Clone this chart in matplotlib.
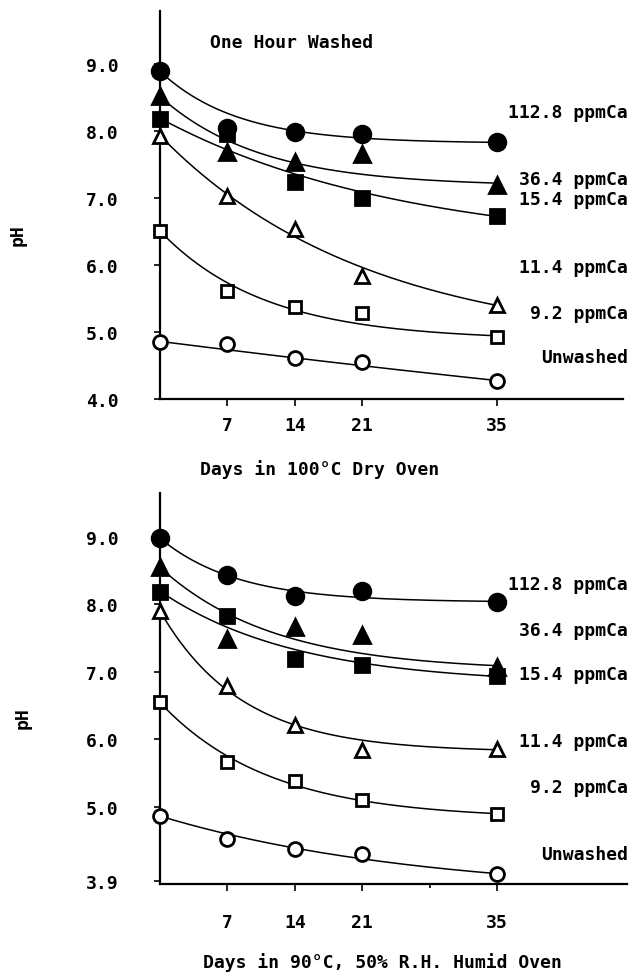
import numpy as np
import matplotlib.pyplot as plt

days = [0, 7, 14, 21, 35]
series = ["112.8 ppmCa", "36.4 ppmCa", "15.4 ppmCa", "11.4 ppmCa", "9.2 ppmCa", "Unwashed"]

# pH readings, one hour washed, 100°C dry oven
dry_ph = [
    [8.90, 8.04, 7.98, 7.95, 7.84],
    [8.52, 7.68, 7.53, 7.66, 7.20],
    [8.18, 7.95, 7.24, 7.00, 6.73],
    [7.93, 7.03, 6.54, 5.84, 5.40],
    [6.51, 5.61, 5.37, 5.28, 4.93],
    [4.85, 4.82, 4.61, 4.55, 4.27],
]
# pH readings, 90°C 50% R.H. humid oven
humid_ph = [
    [8.98, 8.44, 8.13, 8.20, 8.04],
    [8.56, 7.49, 7.67, 7.55, 7.07],
    [8.19, 7.83, 7.19, 7.10, 6.94],
    [7.90, 6.79, 6.21, 5.84, 5.86],
    [6.55, 5.67, 5.39, 5.10, 4.90],
    [4.87, 4.53, 4.38, 4.31, 4.01],
]
dry_label_y = [8.28, 7.28, 6.99, 5.97, 5.28, 4.63]
humid_label_y = [8.30, 7.62, 6.97, 5.98, 5.30, 4.30]

markers = ["o", "^", "s", "^", "s", "o"]
filled = [True, True, True, False, False, False]
msizes = [12, 11, 10, 10, 9, 10]

font = {"family": "DejaVu Sans Mono", "weight": "bold", "size": 13}


def fit_curve(t, y):
    # weighted fit of y = a + b*exp(-t/tau), tau picked by grid search
    t = np.asarray(t, float)
    y = np.asarray(y, float)
    w = np.ones_like(t)
    w[0] = w[-1] = 3.0
    best = None
    for tau in np.linspace(8, 200, 400):
        A = np.column_stack([np.ones_like(t), np.exp(-t / tau)])
        coef, *_ = np.linalg.lstsq(A * w[:, None], y * w, rcond=None)
        err = np.sum((w * (A @ coef - y)) ** 2)
        if best is None or err < best[0]:
            best = (err, tau, coef)
    _, tau, coef = best
    tt = np.linspace(0, t.max(), 200)
    return tt, coef[0] + coef[1] * np.exp(-tt / tau)


def panel(ax, data, label_y, ylim, yticks, yticklabels, xmax, xpad, minor28=False):
    for i, vals in enumerate(data):
        tt, yy = fit_curve(days, vals)
        ax.plot(tt, yy, color="black", lw=1.1, zorder=2)
        ax.plot(days, vals, linestyle="none", marker=markers[i], ms=msizes[i],
                mfc="black" if filled[i] else "white", mec="black", mew=2.0,
                zorder=3, clip_on=False)
        ax.text(48.6, label_y[i], series[i], ha="right", va="center", **font)
    ax.set_xlim(0, xmax)
    ax.set_ylim(*ylim)
    ax.set_xticks([7, 14, 21, 35])
    ax.set_xticklabels(["7", "14", "21", "35"], **font)
    if minor28:
        ax.set_xticks([28], minor=True)
        ax.tick_params(axis="x", which="minor", length=3, width=1.2, direction="out")
    ax.set_yticks(yticks)
    ax.set_yticklabels(yticklabels, **font)
    ax.tick_params(axis="y", length=4, width=1.2, direction="out", pad=26)
    ax.tick_params(axis="x", length=5, width=1.2, direction="out", pad=xpad)
    for s in ["top", "right"]:
        ax.spines[s].set_visible(False)
    for s in ["left", "bottom"]:
        ax.spines[s].set_linewidth(1.6)


fig = plt.figure(figsize=(6.38, 9.79), dpi=100)

ax1 = fig.add_axes([160 / 638, 1 - 400 / 979, 463 / 638, 388 / 979])
panel(ax1, dry_ph, dry_label_y, (4.0, 9.79), [4, 5, 6, 7, 8, 9],
      ["4.0", "5.0", "6.0", "7.0", "8.0", "9.0"], 48.1, 7.5)
ax1.text(5.2, 9.33, "One Hour Washed", ha="left", va="center", **font)

ax2 = fig.add_axes([160 / 638, 1 - 885 / 979, 467 / 638, 391 / 979])
panel(ax2, humid_ph, humid_label_y, (3.86, 9.65), [3.9, 5, 6, 7, 8, 9],
      ["3.9", "5.0", "6.0", "7.0", "8.0", "9.0"], 48.5, 16, minor28=True)

fig.text(320 / 638, 1 - 470 / 979, "Days in 100°C Dry Oven", ha="center", va="center", **font)
fig.text(382 / 638, 1 - 963 / 979, "Days in 90°C, 50% R.H. Humid Oven", ha="center", va="center", **font)
fig.text(18 / 638, 1 - 235 / 979, "pH", rotation=90, ha="center", va="center", **font)
fig.text(23 / 638, 1 - 718 / 979, "pH", rotation=90, ha="center", va="center", **font)

fig.savefig("out.png", dpi=100, facecolor="white")
